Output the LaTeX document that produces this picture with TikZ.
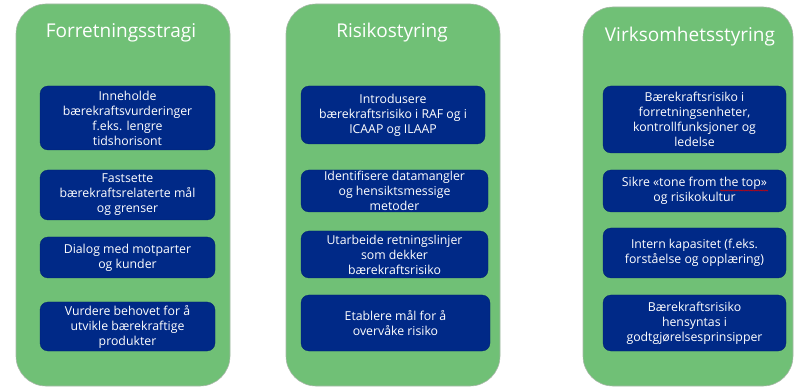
\documentclass[tikz,border=0pt]{standalone}
\usepackage{fontspec}
\setmainfont{Open Sans}
\usetikzlibrary{decorations.pathmorphing}
\definecolor{panelgreen}{HTML}{70C076}
\definecolor{panelline}{HTML}{A8B8A8}
\definecolor{navy}{HTML}{002987}
\tikzset{
  panel/.style={draw=panelline, line width=0.6pt, fill=panelgreen, rounded corners=30pt, inner sep=0pt},
  paneltitle/.style={text=white, font=\fontsize{19}{23}\selectfont, inner sep=0pt},
  card/.style={fill=navy, draw=navy!80!black, line width=0.3pt, rounded corners=8pt, inner sep=0pt, text=white, align=center, font=\fontsize{12.3}{15}\selectfont},
  squiggle/.style={draw=red!85!black, line width=0.5pt, decorate, decoration={snake, amplitude=0.6pt, segment length=2.5pt}}
}
\begin{document}
\begin{tikzpicture}[x=1pt, y=-1pt]
\useasboundingbox (0,0) rectangle (795,387);
% panels
\node[panel, minimum width=214pt, minimum height=382pt] (g1) at (123,195) {};
\node[panel, minimum width=214pt, minimum height=382pt] (g2) at (393,195) {};
\node[panel, minimum width=210pt, minimum height=379pt] (g3) at (688,196.5) {};
% titles
\node[paneltitle] (t1) at (121,33) {Forretningsstragi};
\node[paneltitle] (t2) at (392,33) {Risikostyring};
\node[paneltitle] (t3) at (690,37) {Virksomhetsstyring};
% column 1
\node[card, minimum width=175pt, minimum height=64pt] (b11) at (127.5,118) {Inneholde\\bærekraftsvurderinger\\f.eks. lengre\\tidshorisont};
\node[card, minimum width=175pt, minimum height=50pt] (b12) at (127.5,195) {Fastsette\\bærekraftsrelaterte mål\\og grenser};
\node[card, minimum width=175pt, minimum height=41pt] (b13) at (127.5,257.5) {Dialog med motparter\\og kunder};
\node[card, minimum width=175pt, minimum height=49pt] (b14) at (127.5,326.5) {Vurdere behovet for å\\utvikle bærekraftige\\produkter};
% column 2
\node[card, minimum width=184pt, minimum height=58pt] (b21) at (393,115) {Introdusere\\bærekraftsrisiko i RAF og i\\ICAAP og ILAAP};
\node[card, minimum width=187pt, minimum height=42pt] (b22) at (394.5,191) {Identifisere datamangler\\og hensiktsmessige\\metoder};
\node[card, minimum width=187pt, minimum height=47pt] (b23) at (394.5,254.5) {Utarbeide retningslinjer\\som dekker\\bærekraftsrisiko};
\node[card, minimum width=189pt, minimum height=56pt] (b24) at (395.5,323) {Etablere mål for å\\overvåke risiko};
% column 3
\node[card, minimum width=183pt, minimum height=67pt] (b31) at (694.5,119.5) {Bærekraftsrisiko i\\forretningsenheter,\\kontrollfunksjoner og\\ledelse};
\node[card, minimum width=183pt, minimum height=42pt] (b32) at (694.5,191) {Sikre «tone from the top»\\og risikokultur};
\node[card, minimum width=183pt, minimum height=50pt] (b33) at (694.5,253) {Intern kapasitet (f.eks.\\forståelse og opplæring)};
\node[card, minimum width=183pt, minimum height=56pt] (b34) at (694.5,323) {Bærekraftsrisiko\\hensyntas i\\godtgjørelsesprinsipper};
% spell-check squiggle
\coordinate (sq1) at (720,190.5);
\coordinate (sq2) at (768,190.5);
\draw[squiggle] (sq1) -- (sq2);
\end{tikzpicture}
\end{document}
